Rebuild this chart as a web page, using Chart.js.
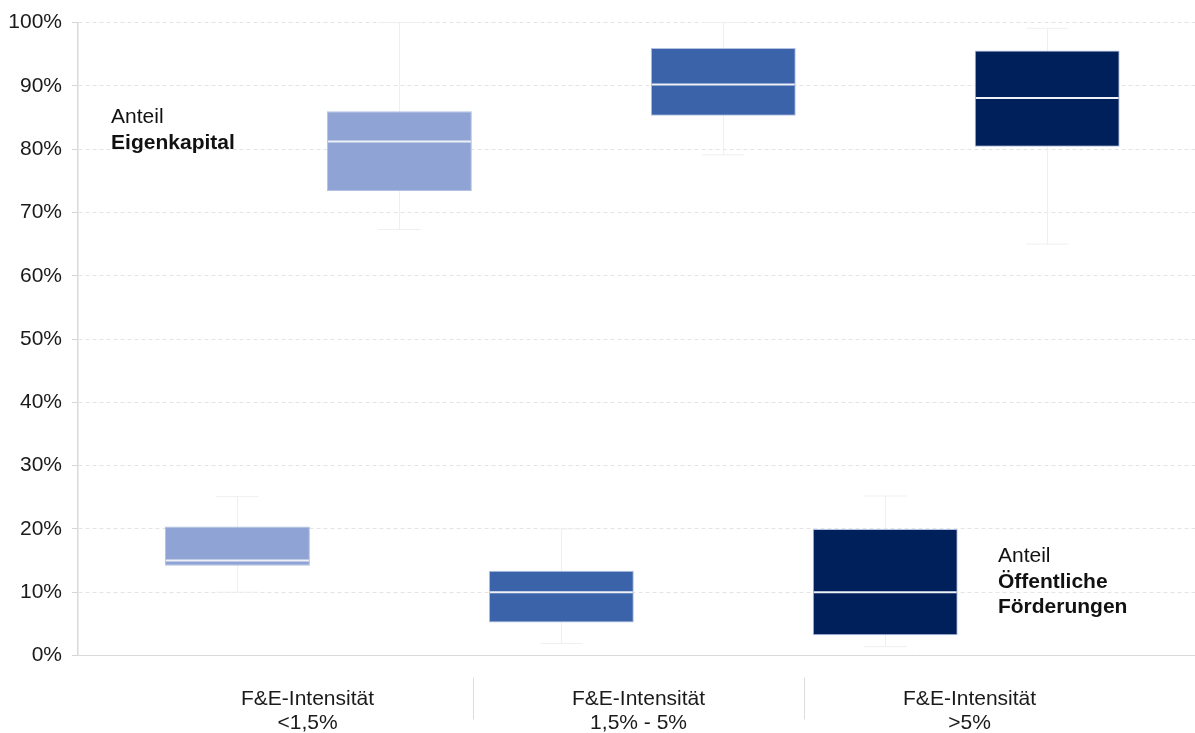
<!DOCTYPE html>
<html lang="de">
<head>
<meta charset="utf-8">
<title>F&amp;E-Intensität – Eigenkapital und öffentliche Förderungen</title>
<script src="https://cdn.jsdelivr.net/npm/chart.js@4.4.1/dist/chart.umd.min.js"></script>
<style>
  html, body { margin: 0; padding: 0; background: #fff; }
  #wrap { width: 1195px; height: 733px; position: relative; }
</style>
</head>
<body>
<div id="wrap"><canvas id="chart"></canvas></div>
<script>
// === data (percent) ===
const categories = [
  ['F&E-Intensität', '<1,5%'],
  ['F&E-Intensität', '1,5% - 5%'],
  ['F&E-Intensität', '>5%']
];
const yTicks = [0, 10, 20, 30, 40, 50, 60, 70, 80, 90, 100];

// Anteil öffentliche Förderungen
const foerderMin    = [10.0, 1.9, 1.4];
const foerderQ1     = [14.2, 5.2, 3.2];
const foerderMedian = [15.0, 10.0, 10.0];
const foerderQ3     = [20.4, 13.4, 20.0];
const foerderMax    = [25.1, 20.0, 25.2];

// Anteil Eigenkapital
const ekMin    = [67.3, 79.1, 65.0];
const ekQ1     = [73.4, 85.3, 80.4];
const ekMedian = [81.2, 90.2, 88.1];
const ekQ3     = [86.0, 96.0, 95.6];
const ekMax    = [100.0, 100.0, 99.1];

const boxColors = ['#8fa3d4', '#3a63aa', '#00205b'];

// text labels inside the plot (x in bar-axis units, y = baseline value of first line)
const notes = [
  { x: -0.64, y: 84.1, lines: [['Anteil', false], ['Eigenkapital', true]] },
  { x: 2.098, y: 14.75, lines: [['Anteil', false], ['Öffentliche', true], ['Förderungen', true]] }
];

const FONT = "'Liberation Sans', Arial, Helvetica, sans-serif";
Chart.defaults.font.family = FONT;

function boxData(q1, q3) {
  return q1.map((v, i) => ({ x: i, y: [v, q3[i]] }));
}
function categoryTicks(s) {
  s.ticks = categories.map((c, i) => ({ value: i }));
}

const boxPlot = {
  id: 'boxPlot',
  beforeDatasetsDraw(chart) {
    const { ctx } = chart;
    const y = chart.scales.y;
    ctx.save();
    ctx.strokeStyle = '#efefef';
    ctx.lineWidth = 1;
    chart.data.datasets.forEach((ds, di) => {
      const meta = chart.getDatasetMeta(di);
      meta.data.forEach((el, i) => {
        const x = Math.round(el.x) + 0.5;
        const y1 = y.getPixelForValue(ds.stats.min[i]);
        const y2 = y.getPixelForValue(ds.stats.max[i]);
        ctx.beginPath();
        ctx.moveTo(x, y1); ctx.lineTo(x, y2);
        ctx.moveTo(x - 21, y1); ctx.lineTo(x + 21, y1);
        ctx.moveTo(x - 21, y2); ctx.lineTo(x + 21, y2);
        ctx.stroke();
      });
    });
    ctx.restore();
  },
  afterDatasetsDraw(chart) {
    const { ctx } = chart;
    const y = chart.scales.y;
    ctx.save();
    ctx.strokeStyle = '#eef1f8';
    ctx.lineWidth = 2;
    chart.data.datasets.forEach((ds, di) => {
      const meta = chart.getDatasetMeta(di);
      meta.data.forEach((el, i) => {
        const py = y.getPixelForValue(ds.stats.median[i]);
        ctx.beginPath();
        ctx.moveTo(el.x - el.width / 2 + 1, py);
        ctx.lineTo(el.x + el.width / 2 - 1, py);
        ctx.stroke();
      });
    });
    ctx.restore();
  },
  afterDraw(chart) {
    const { ctx, chartArea } = chart;
    const xl = chart.scales.xl, xb = chart.scales.x, y = chart.scales.y;
    ctx.save();
    // separators between the category labels
    ctx.strokeStyle = '#dcdcdc';
    ctx.lineWidth = 1;
    for (let i = 0; i < categories.length - 1; i++) {
      const px = Math.round(xl.getPixelForValue(i + 0.5)) + 0.5;
      ctx.beginPath();
      ctx.moveTo(px, chartArea.bottom + 22);
      ctx.lineTo(px, chartArea.bottom + 64);
      ctx.stroke();
    }
    // notes
    ctx.fillStyle = '#111';
    ctx.textAlign = 'left';
    ctx.textBaseline = 'alphabetic';
    notes.forEach(n => {
      const px = xb.getPixelForValue(n.x);
      const py = y.getPixelForValue(n.y);
      n.lines.forEach(([t, bold], k) => {
        ctx.font = (bold ? 'bold ' : '') + '21px ' + FONT;
        ctx.fillText(t, px, py + k * 25.5);
      });
    });
    ctx.restore();
  }
};

new Chart(document.getElementById('chart'), {
  type: 'bar',
  data: {
    datasets: [
      {
        label: 'Öffentliche Förderungen',
        data: boxData(foerderQ1, foerderQ3),
        stats: { min: foerderMin, median: foerderMedian, max: foerderMax },
        backgroundColor: boxColors,
        borderColor: '#b3c2e4',
        borderWidth: 1,
        borderSkipped: false,
        xAxisID: 'x', yAxisID: 'y'
      },
      {
        label: 'Eigenkapital',
        data: boxData(ekQ1, ekQ3),
        stats: { min: ekMin, median: ekMedian, max: ekMax },
        backgroundColor: boxColors,
        borderColor: '#b3c2e4',
        borderWidth: 1,
        borderSkipped: false,
        xAxisID: 'x', yAxisID: 'y'
      }
    ]
  },
  options: {
    responsive: true,
    maintainAspectRatio: false,
    animation: false,
    categoryPercentage: 1.0,
    barPercentage: 0.895,
    layout: { padding: { top: 21.5, right: 0, bottom: 0, left: 0 } },
    plugins: { legend: { display: false }, tooltip: { enabled: false } },
    scales: {
      x: {
        type: 'linear', display: false, offset: false, min: -0.7422, max: 2.7064,
        afterBuildTicks: categoryTicks,
        grid: { offset: false }
      },
      xl: {
        type: 'linear', position: 'bottom', offset: false, min: -0.6934, max: 2.681,
        afterBuildTicks: categoryTicks,
        afterFit: s => { s.height = 77.5; },
        grid: { display: false, drawTicks: false, offset: false },
        border: { display: true, color: '#d9d9d9', width: 1 },
        ticks: {
          callback: v => categories[v],
          autoSkip: false, maxRotation: 0, padding: 32,
          color: '#1a1a1a', font: { size: 21, lineHeight: 1.12 }
        }
      },
      y: {
        min: 0, max: 100,
        afterBuildTicks: s => { s.ticks = yTicks.map(v => ({ value: v })); },
        afterFit: s => { s.width = 78; },
        grid: { color: '#e4e4e4', lineWidth: 1, tickLength: 6, tickColor: '#d6d6d6' },
        border: { display: true, color: '#d9d9d9', width: 1.5, dash: [4, 3] },
        ticks: { callback: v => v + '%', padding: 10, color: '#1a1a1a', font: { size: 21 } }
      }
    }
  },
  plugins: [boxPlot]
});
</script>
</body>
</html>
